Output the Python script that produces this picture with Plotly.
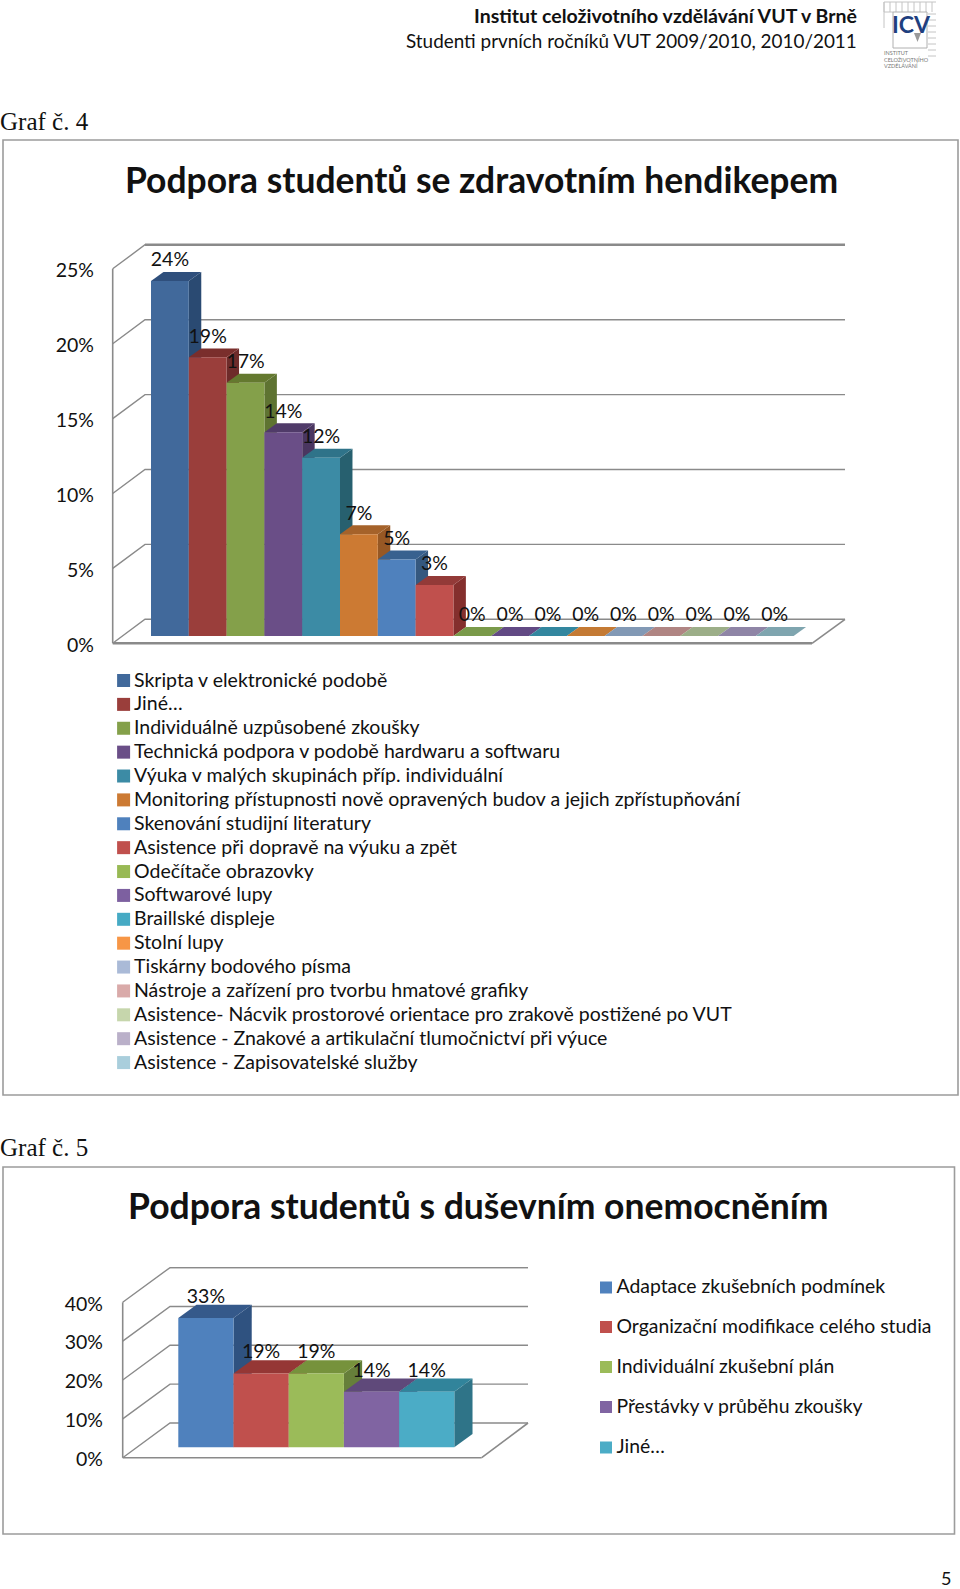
import plotly.graph_objects as go

W, H = 960, 1589
SANS = "Lato"

# ---------- data ----------
c1_names = ["Skripta v elektronické podobě", "Jiné…", "Individuálně uzpůsobené zkoušky",
            "Technická podpora v podobě hardwaru a softwaru", "Výuka v malých skupinách příp. individuální",
            "Monitoring přístupnosti nově opravených budov a jejich zpřístupňování",
            "Skenování studijní literatury", "Asistence při dopravě na výuku a zpět", "Odečítače obrazovky",
            "Softwarové lupy", "Braillské displeje", "Stolní lupy", "Tiskárny bodového písma",
            "Nástroje a zařízení pro tvorbu hmatové grafiky",
            "Asistence- Nácvik prostorové orientace pro zrakově postižené po VUT",
            "Asistence - Znakové a artikulační tlumočnictví při výuce", "Asistence - Zapisovatelské služby"]
c1_values = [23.7, 18.6, 16.9, 13.6, 11.9, 6.8, 5.1, 3.4, 0, 0, 0, 0, 0, 0, 0, 0, 0]
c1_labels = ["24%", "19%", "17%", "14%", "12%", "7%", "5%", "3%", "0%", "0%", "0%", "0%", "0%", "0%", "0%", "0%", "0%"]
c1_ticks = [0, 5, 10, 15, 20, 25]
c1_front = ["#41699B", "#9A3E3B", "#84A04A", "#6A4E87", "#3C8BA5", "#CC7A33", "#4F81BD", "#C0504D",
            "#98B954", "#7D60A0", "#46AAC4", "#F79646", "#AABAD7", "#D9AAA9", "#C6D6AC", "#BAB0C9", "#A9CEDC"]
c1_top = ["#2F4F7C", "#7A2E2C", "#64792F", "#503B69", "#2F7389", "#A5622A", "#38618F", "#933A38",
          "#7A9A4A", "#624A84", "#33879F", "#C47A34", "#8299B5", "#B08583", "#9CAE88", "#8F85A6", "#7FA5AF"]
c1_side = ["#2A4A72", "#6E2B2A", "#5E7331", "#4A3660", "#27606F", "#975824", "#35587F", "#842F2D",
           "#6E8A3A", "#4A3660", "#27606F", "#975824", "#35587F", "#842F2D", "#6E8A3A", "#4A3660", "#27606F"]

c2_names = ["Adaptace zkušebních podmínek", "Organizační modifikace celého studia", "Individuální zkušební plán",
            "Přestávky v průběhu zkoušky", "Jiné…"]
c2_values = [33.3, 19.0, 19.0, 14.3, 14.3]
c2_labels = ["33%", "19%", "19%", "14%", "14%"]
c2_ticks = [0, 10, 20, 30, 40]
c2_front = ["#4F81BD", "#C0504D", "#9BBB59", "#8064A2", "#4BACC6"]
c2_top = ["#35598A", "#953735", "#76923C", "#5F497A", "#31849B"]
c2_side = ["#2F5280", "#7D3331", "#667F3A", "#4F3D68", "#2F7488"]

# ---------- chart geometry ----------
GRID = "#8A8A8A"
FS = 19.5
fig = go.Figure()
layout = {}


def build(n, vals, labels, ticks, front, top, side, box, barx, barw, base, pxv, back_px, front_px,
          label_gap, tick_standoff, top_tick, floor_w):
    """n: axis suffix base. Depth and wall offsets are expressed in axis units."""
    x0, x1, y0, y1 = box
    to_x = lambda p: (p - barx) / barw
    to_y = lambda p: (base - p) / pxv
    xr = [to_x(x0), to_x(x1)]
    yr = [to_y(y1), to_y(y0)]
    s_base = "" if n == 1 else str(n)
    s_top = str(n + 1)
    dom_x = [x0 / W, x1 / W]
    dom_y = [1 - y1 / H, 1 - y0 / H]
    layout[f"xaxis{s_base}"] = dict(domain=dom_x, range=xr, visible=False, anchor=f"y{s_base}", fixedrange=True)
    layout[f"xaxis{s_top}"] = dict(domain=dom_x, range=xr, visible=False, anchor=f"y{s_top}",
                                   overlaying=f"x{s_base}", fixedrange=True)
    fy = to_y(front_px["y"])
    by = to_y(back_px["y"])
    layout[f"yaxis{s_base}"] = dict(domain=dom_y, range=yr, anchor=f"x{s_base}", showgrid=False, zeroline=False,
                                    showline=False, tickmode="array", tickvals=[t + fy - 1.5 / pxv for t in ticks],
                                    ticktext=[f"{t}%" for t in ticks], ticks="", ticklabelstandoff=tick_standoff,
                                    tickfont=dict(family=SANS, size=FS, color="#111111"), fixedrange=True)
    layout[f"yaxis{s_top}"] = dict(domain=dom_y, range=yr, visible=False, anchor=f"x{s_top}",
                                   overlaying=f"y{s_base}", fixedrange=True)
    fl, bl, br, fr = to_x(front_px["left"]), to_x(back_px["left"]), to_x(back_px["right"]), to_x(front_px["right"])
    axes = dict(xaxis=f"x{s_base}", yaxis=f"y{s_base}", showlegend=False, hoverinfo="skip")
    for t in ticks:
        fig.add_trace(go.Scatter(x=[fl, bl, br], y=[t + fy, t + by, t + by], mode="lines",
                                 line=dict(color=GRID, width=1.4), **axes))
    fig.add_trace(go.Scatter(x=[bl, br], y=[ticks[-1] + by, ticks[-1] + by], mode="lines",
                             line=dict(color=GRID, width=top_tick), **axes))
    fig.add_trace(go.Scatter(x=[fl, fl], y=[ticks[0] + fy, ticks[-1] + fy], mode="lines",
                             line=dict(color=GRID, width=1.6), **axes))
    fig.add_trace(go.Scatter(x=[fr, br], y=[fy, by], mode="lines", line=dict(color=GRID, width=1.6), **axes))
    fig.add_trace(go.Scatter(x=[fl, fr], y=[fy, fy], mode="lines", line=dict(color=GRID, width=floor_w), **axes))
    dx = 0.33
    dy = {1: 0.6, 3: 3.42}[n]
    for i, v in enumerate(vals):
        a, b = i, i + 1
        if v > 0:
            fig.add_trace(go.Scatter(x=[b, b + dx, b + dx, b, b], y=[0, dy, v + dy, v, 0], mode="lines",
                                     fill="toself", fillcolor=side[i], line=dict(width=0), **axes))
        fig.add_trace(go.Scatter(x=[a, a + dx, b + dx, b, a], y=[v, v + dy, v + dy, v, v], mode="lines",
                                 fill="toself", fillcolor=top[i], line=dict(width=0), **axes))
    over = dict(xaxis=f"x{s_top}", yaxis=f"y{s_top}", showlegend=False, hoverinfo="skip")
    centers = [i + 0.5 for i in range(len(vals))]
    fig.add_trace(go.Bar(x=centers, y=vals, width=1, marker=dict(color=front, line=dict(width=0)), **over))
    fig.add_trace(go.Scatter(x=centers, y=[v + label_gap / pxv for v in vals], mode="text", text=labels,
                             textposition="middle center", cliponaxis=False,
                             textfont=dict(family=SANS, size=FS, color="#111111"), **over))


build(1, c1_values, c1_labels, c1_ticks, c1_front, c1_top, c1_side, (100, 860, 230, 660), 151, 37.8, 636, 14.98,
      dict(y=619.3, left=145, right=845), dict(y=643.3, left=112.7, right=812), 19.5, 5, 2.4, 2.4)
build(3, c2_values, c2_labels, c2_ticks, c2_front, c2_top, c2_side, (110, 540, 1255, 1470), 178.3, 55.2, 1447.3, 3.885,
      dict(y=1423, left=170, right=528), dict(y=1457.7, left=122.7, right=481.7), 20, 6, 1.4, 1.6)

# ---------- legends on a page-wide axis ----------
layout["xaxis5"] = dict(domain=[0, 1], range=[0, W], visible=False, anchor="y5", fixedrange=True)
layout["yaxis5"] = dict(domain=[0, 1], range=[H, 0], visible=False, anchor="x5", fixedrange=True)
LEG = dict(xaxis="x5", yaxis="y5", showlegend=False, hoverinfo="skip", cliponaxis=False)
c1_rows = [680.5 + 23.88 * i for i in range(len(c1_names))]
c2_rows = [1287.5, 1327, 1367, 1407, 1447.5]
fig.add_trace(go.Scatter(x=[123.6] * len(c1_names), y=c1_rows, mode="markers",
                         marker=dict(symbol="square", size=13, color=c1_front, line=dict(width=0)), **LEG))
fig.add_trace(go.Scatter(x=[134] * len(c1_names), y=[r + 1.2 for r in c1_rows], mode="text", text=c1_names,
                         textposition="middle right",
                         textfont=dict(family=SANS, size=FS, color="#111111"), **LEG))
fig.add_trace(go.Scatter(x=[606] * len(c2_names), y=c2_rows, mode="markers",
                         marker=dict(symbol="square", size=12, color=c2_front, line=dict(width=0)), **LEG))
fig.add_trace(go.Scatter(x=[616.5] * len(c2_names), y=[r + 1 for r in c2_rows], mode="text", text=c2_names,
                         textposition="middle right",
                         textfont=dict(family=SANS, size=19.4, color="#111111"), **LEG))


# ---------- page furniture ----------
def txt(x, y, s, size, family=SANS, bold=False, anchor="left", color="#111111"):
    return dict(x=x / W, y=1 - y / H, xref="paper", yref="paper", text=f"<b>{s}</b>" if bold else s, showarrow=False,
                xanchor=anchor, yanchor="middle", font=dict(family=family, size=size, color=color), borderpad=0,
                borderwidth=0)


annotations = [
    txt(857, 15.5, "Institut celoživotního vzdělávání VUT v Brně", 19.5, bold=True, anchor="right"),
    txt(857, 41, "Studenti prvních ročníků VUT 2009/2010, 2010/2011", 18.9, anchor="right"),
    txt(0, 122, "Graf č. 4", 25, family="Liberation Serif"),
    txt(0, 1147.5, "Graf č. 5", 25, family="Liberation Serif"),
    txt(481, 179, "Podpora studentů se zdravotním hendikepem", 35.45, bold=True, anchor="center"),
    txt(478, 1205, "Podpora studentů s duševním onemocněním", 35.5, bold=True, anchor="center"),
    txt(941, 1577.5, "5", 18),
    txt(911.5, 24, "ICV", 23, bold=True, anchor="center", color="#1F3F7F"),
    txt(884, 53, "INSTITUT", 5.5, color="#777777"),
    txt(884, 59, "CELOŽIVOTNÍHO", 5.5, color="#777777"),
    txt(884, 65, "VZDĚLÁVÁNÍ", 5.5, color="#777777"),
]


def rect(x0, y0, x1, y1, color, w=1.6, fill=None):
    d = dict(type="rect", xref="paper", yref="paper", x0=x0 / W, x1=x1 / W, y0=1 - y0 / H, y1=1 - y1 / H,
             line=dict(color=color, width=w), layer="below")
    if fill:
        d["fillcolor"] = fill
    return d


def line(x0, y0, x1, y1, color="#C4C4C4", w=1):
    return dict(type="line", xref="paper", yref="paper", x0=x0 / W, x1=x1 / W, y0=1 - y0 / H, y1=1 - y1 / H,
                line=dict(color=color, width=w), layer="below")


shapes = [rect(3, 140, 958, 1095, "#9C9C9C"), rect(3, 1167, 954.5, 1534, "#9C9C9C"),
          line(884, 2, 936, 2), line(884, 12, 893, 12)]
shapes += [line(884 + 6 * i, 2, 884 + 6 * i, 12) for i in range(9)]
shapes += [line(928, 14 + 6 * i, 936, 14 + 6 * i) for i in range(8)]
shapes += [line(884, 2, 884, 28), rect(893, 12, 927, 48, "#B0B0B0", 1),
           dict(type="path", xref="paper", yref="paper", layer="below", line=dict(width=0), fillcolor="#9A9A9A",
                path=f"M {914/W} {1-33/H} L {921/W} {1-33/H} L {917.5/W} {1-42/H} Z")]

layout.update(width=W, height=H, margin=dict(l=0, r=0, t=0, b=0, pad=0), paper_bgcolor="white",
              plot_bgcolor="rgba(0,0,0,0)", showlegend=False, barmode="overlay", annotations=annotations,
              shapes=shapes, hovermode=False)
fig.update_layout(**layout)
fig.write_html("out.html", post_script="document.body.style.margin='0';", config=dict(displayModeBar=False))
